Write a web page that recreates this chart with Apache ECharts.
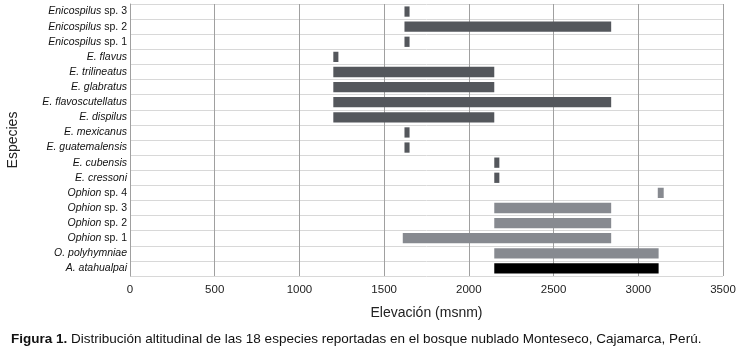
<!DOCTYPE html>
<html>
<head>
<meta charset="utf-8">
<script src="https://cdn.jsdelivr.net/npm/echarts@6/dist/echarts.min.js"></script>
<style>
  html, body { margin: 0; padding: 0; background: #fff; }
  #chart { width: 743px; height: 351px; }
</style>
</head>
<body>
<div id="chart"></div>
<script>
// especies, de arriba hacia abajo
var species = ['Enicospilus sp. 3', 'Enicospilus sp. 2', 'Enicospilus sp. 1', 'E. flavus',
    'E. trilineatus', 'E. glabratus', 'E. flavoscutellatus', 'E. dispilus', 'E. mexicanus',
    'E. guatemalensis', 'E. cubensis', 'E. cressoni', 'Ophion sp. 4', 'Ophion sp. 3',
    'Ophion sp. 2', 'Ophion sp. 1', 'O. polyhymniae', 'A. atahualpai'];
// elevación mínima y máxima (msnm)
var minElev = [1620, 1620, 1620, 1200, 1200, 1200, 1200, 1200, 1620, 1620, 2150, 2150, 3115, 2150, 2150, 1610, 2150, 2150];
var maxElev = [1650, 2840, 1650, 1230, 2150, 2150, 2840, 2150, 1650, 1650, 2180, 2180, 3150, 2840, 2840, 2840, 3120, 3120];
var xTicks = [0, 500, 1000, 1500, 2000, 2500, 3000, 3500];

function barColor(name) {
    if (name.indexOf('A.') === 0) return '#000000';
    if (name.indexOf('Ophion') === 0 || name.indexOf('O.') === 0) return '#878a90';
    return '#54575c';
}

var rangeData = species.map(function (name, i) {
    return {value: maxElev[i] - minElev[i], itemStyle: {color: barColor(name)}};
});

var chart = echarts.init(document.getElementById('chart'));
chart.setOption({
    animation: false,
    title: {
        text: '{b|Figura 1.} Distribución altitudinal de las 18 especies reportadas en el bosque nublado Monteseco, Cajamarca, Perú.',
        left: 6,
        top: 327,
        textStyle: {
            fontFamily: 'Liberation Sans',
            fontSize: 13.5,
            fontWeight: 'normal',
            color: '#111',
            rich: {
                b: {fontFamily: 'Liberation Sans', fontSize: 13.5, fontWeight: 'bold', color: '#111'}
            }
        }
    },
    grid: {left: 130, right: 20, top: 4, bottom: 75, containLabel: false, outerBoundsMode: 'none'},
    xAxis: {
        type: 'value',
        min: xTicks[0],
        max: xTicks[xTicks.length - 1],
        interval: 500,
        name: 'Elevación (msnm)',
        nameLocation: 'middle',
        nameGap: 30,
        nameTextStyle: {fontFamily: 'Liberation Sans', fontSize: 14, color: '#222'},
        axisLine: {lineStyle: {color: '#808080', width: 2}},
        axisTick: {show: false},
        axisLabel: {
            fontFamily: 'Liberation Sans', fontSize: 11.5, color: '#222', margin: 8,
            formatter: function (v) { return String(v); }
        },
        splitLine: {lineStyle: {color: '#a0a0a0', width: 1}}
    },
    yAxis: {
        type: 'category',
        inverse: true,
        data: species,
        name: 'Especies',
        nameLocation: 'middle',
        nameRotate: 90,
        nameGap: 110,
        nameTextStyle: {fontFamily: 'Liberation Sans', fontSize: 14, color: '#222'},
        axisLine: {lineStyle: {color: '#a0a0a0'}},
        axisTick: {show: false},
        axisLabel: {
            interval: 0,
            margin: 3,
            fontFamily: 'Liberation Sans',
            fontSize: 10.5,
            color: '#111',
            formatter: function (name) {
                var m = name.match(/^(\S+) (sp\. \d)$/);
                if (m) return '{i|' + m[1] + '} {n|' + m[2] + '}';
                return '{i|' + name + '}';
            },
            rich: {
                i: {fontFamily: 'Liberation Sans', fontSize: 10.5, fontStyle: 'italic', color: '#111'},
                n: {fontFamily: 'Liberation Sans', fontSize: 10.5, color: '#111'}
            }
        },
        splitLine: {show: true, interval: 0, lineStyle: {color: '#d8d8d8'}}
    },
    series: [
        {
            type: 'bar',
            stack: 'rango',
            silent: true,
            itemStyle: {color: 'transparent'},
            data: minElev
        },
        {
            type: 'bar',
            stack: 'rango',
            barCategoryGap: '32%',
            data: rangeData
        }
    ]
});
</script>
</body>
</html>
